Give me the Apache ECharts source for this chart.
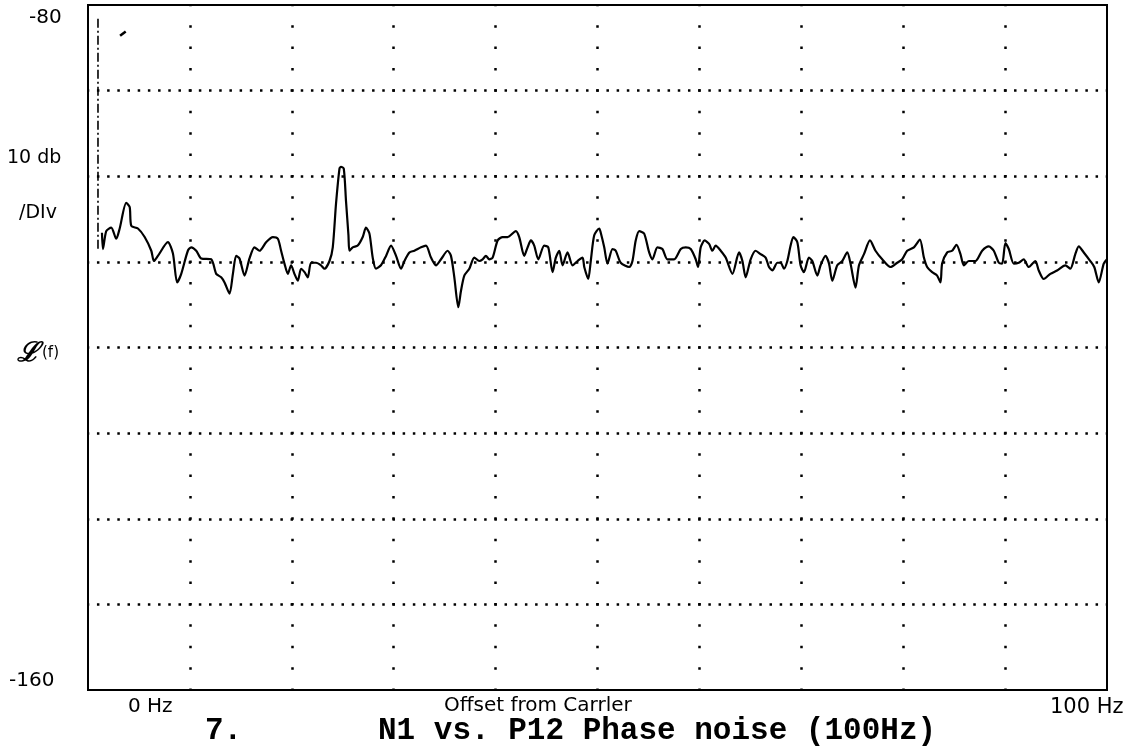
<!DOCTYPE html>
<html>
<head>
<meta charset="utf-8">
<title>N1 vs. P12 Phase noise (100Hz)</title>
<script src="https://cdn.jsdelivr.net/npm/echarts@6/dist/echarts.min.js"></script>
<style>
  html, body { margin: 0; padding: 0; background: #fff; }
  #chart { width: 1140px; height: 746px; }
</style>
</head>
<body>
<div id="chart"></div>
<script>
// Single-sideband phase noise L(f), 0..100 Hz offset, 10 dB per division
const freqHz = [
  1.37, 1.47, 1.79, 2.28, 2.77, 3.11, 3.75, 4.09, 4.25, 4.90,
  5.56, 6.21, 6.47, 6.86, 7.84, 8.33, 8.75, 9.15, 9.80, 10.13,
  10.62, 11.11, 12.09, 12.58, 13.07, 13.40, 13.89, 14.22, 14.54, 14.87,
  15.36, 15.85, 16.34, 16.83, 17.48, 18.14, 18.63, 18.95, 19.28, 19.61,
  19.93, 20.26, 20.59, 20.91, 21.25, 21.57, 21.89, 22.38, 22.87, 23.21,
  23.70, 24.02, 24.34, 24.68, 24.83, 25.10, 25.32, 25.56, 25.66, 25.98,
  26.47, 26.96, 27.28, 27.62, 27.94, 28.26, 28.75, 29.25, 29.74, 30.23,
  30.72, 31.05, 31.54, 32.03, 32.68, 33.17, 33.66, 34.15, 34.64, 35.29,
  35.62, 35.95, 36.34, 36.60, 36.93, 37.42, 37.91, 38.40, 38.73, 39.05,
  39.38, 39.71, 40.20, 40.69, 41.18, 41.99, 42.32, 42.81, 43.14, 43.46,
  43.79, 44.19, 44.77, 45.17, 45.59, 45.91, 46.25, 46.57, 47.06, 47.55,
  48.04, 48.53, 48.70, 49.09, 49.34, 49.68, 50.17, 50.32, 50.66, 50.98,
  51.47, 51.79, 52.28, 53.11, 53.43, 53.75, 54.09, 54.58, 55.07, 55.39,
  55.88, 56.37, 56.86, 57.52, 58.17, 58.66, 59.15, 59.64, 59.87, 60.13,
  60.52, 60.95, 61.27, 61.60, 62.09, 62.58, 63.24, 63.89, 64.22, 64.54,
  65.03, 65.52, 66.01, 66.50, 66.83, 67.16, 67.65, 67.97, 68.30, 68.63,
  68.95, 69.22, 69.61, 69.93, 70.26, 70.75, 71.08, 71.57, 71.89, 72.38,
  72.72, 73.04, 73.53, 74.02, 74.51, 74.83, 75.32, 75.66, 76.15, 76.74,
  77.28, 77.94, 78.75, 79.41, 79.90, 80.39, 81.05, 81.64, 82.03, 82.35,
  82.84, 83.33, 83.66, 83.82, 84.31, 84.80, 85.23, 85.62, 85.95, 86.44,
  87.09, 87.75, 88.40, 88.89, 89.38, 89.71, 90.03, 90.36, 90.85, 91.34,
  91.83, 92.32, 92.97, 93.30, 93.79, 94.44, 95.10, 95.91, 96.40, 96.89,
  97.23, 97.72, 98.36, 98.75, 99.19, 99.68, 100.0
];
const levelDb = [
  -106.6, -108.5, -106.4, -106.0, -107.3, -106.1, -103.1, -103.6, -105.8, -106.1,
  -107.1, -108.7, -109.9, -109.3, -107.7, -109.0, -112.4, -111.4, -108.7, -108.3,
  -108.7, -109.6, -109.7, -111.4, -111.8, -112.4, -113.7, -111.4, -109.3, -109.6,
  -111.6, -109.6, -108.3, -108.7, -107.7, -107.1, -107.3, -108.7, -110.2, -111.4,
  -110.4, -111.4, -112.2, -110.8, -111.2, -111.8, -110.1, -110.1, -110.4, -110.8,
  -109.9, -108.3, -103.2, -99.1, -98.9, -99.1, -102.9, -106.9, -108.7, -108.3,
  -108.1, -107.1, -106.0, -106.7, -109.5, -110.8, -110.4, -109.3, -108.1, -109.3,
  -110.8, -109.9, -108.9, -108.7, -108.3, -108.1, -109.5, -110.4, -109.7, -108.7,
  -109.3, -111.8, -115.3, -113.4, -111.6, -110.8, -109.5, -109.9, -109.7, -109.3,
  -109.7, -109.5, -107.5, -107.1, -107.1, -106.4, -107.1, -109.3, -108.3, -107.5,
  -108.1, -109.7, -108.1, -108.3, -111.2, -109.5, -108.7, -110.4, -108.9, -110.4,
  -109.9, -109.5, -110.6, -112.0, -109.9, -106.9, -106.1, -106.6, -108.3, -110.2,
  -108.5, -108.7, -110.1, -110.6, -109.9, -107.5, -106.4, -106.7, -108.9, -109.7,
  -108.3, -108.5, -109.7, -109.7, -108.5, -108.3, -108.5, -109.7, -110.6, -108.3,
  -107.5, -107.9, -108.7, -108.1, -108.7, -109.5, -111.4, -108.9, -109.9, -111.8,
  -109.7, -108.7, -109.1, -109.5, -110.6, -111.0, -110.1, -110.1, -110.8, -109.9,
  -108.1, -107.1, -107.7, -110.4, -111.2, -109.5, -109.9, -111.6, -110.4, -109.3,
  -110.2, -112.2, -110.4, -109.9, -108.9, -110.2, -113.0, -110.4, -109.1, -107.5,
  -108.7, -109.7, -110.6, -110.1, -109.7, -108.7, -108.3, -107.4, -109.5, -110.6,
  -111.2, -111.6, -112.4, -110.2, -108.9, -108.7, -108.0, -109.1, -110.4, -109.9,
  -109.9, -108.7, -108.2, -108.7, -110.1, -110.2, -107.8, -108.5, -110.2, -110.1,
  -109.7, -110.6, -109.9, -111.0, -112.0, -111.4, -111.0, -110.4, -110.8, -109.1,
  -108.2, -108.9, -109.9, -110.6, -112.4, -110.2, -109.7
];

// Carrier marker drawn as a dash-dot stroke just right of 0 Hz
const carrierHz = [0.98, 0.98];
const carrierDb = [-81.6, -108.5];
// Short pen stroke near the top left
const strokeHz = [3.15, 3.7];
const strokeDb = [-83.6, -83.1];

const xRange = [0, 100];
const yRange = [-160, -80];
const yTickLabels = ['-80', '-160'];
const xTickLabels = ['0 Hz', '100 Hz'];
const scaleLabels = ['10 db', '/DIv'];
const yName = ['ℒ', '(f)'];
const xName = 'Offset from Carrler';
const plotNumber = '7.';
const plotTitle = 'N1 vs. P12 Phase noise (100Hz)';

const zip = (xs, ys) => xs.map((x, i) => [x, ys[i]]);

const chart = echarts.init(document.getElementById('chart'), null, { renderer: 'canvas' });

const sansFont = '"DejaVu Sans", "Liberation Sans", sans-serif';
const monoFont = '"Liberation Mono", "DejaVu Sans Mono", monospace';

chart.setOption({
  animation: false,
  backgroundColor: '#ffffff',
  grid: {
    left: 88, top: 5, width: 1019, height: 685,
    show: true, borderColor: '#000', borderWidth: 2, backgroundColor: 'transparent'
  },
  xAxis: {
    type: 'value', min: xRange[0], max: xRange[1], interval: 10,
    axisLine: { show: false }, axisTick: { show: false }, axisLabel: { show: false },
    splitLine: {
      show: true, showMinLine: false, showMaxLine: false,
      lineStyle: { color: '#000', width: 2.5, type: [2.5, 18.9], dashOffset: 1.25 }
    }
  },
  yAxis: {
    type: 'value', min: yRange[0], max: yRange[1], interval: 10,
    axisLine: { show: false }, axisTick: { show: false }, axisLabel: { show: false },
    splitLine: {
      show: true, showMinLine: false, showMaxLine: false,
      lineStyle: { color: '#000', width: 2.5, type: [2.5, 7.69], dashOffset: 1.25 }
    }
  },
  series: [
    {
      type: 'line', data: zip(freqHz, levelDb), symbol: 'none', smooth: 0.25,
      lineStyle: { color: '#000', width: 2.2 }, z: 5
    },
    {
      type: 'line', data: zip(carrierHz, carrierDb), symbol: 'none',
      lineStyle: { color: '#000', width: 1.6, type: [9, 3, 2, 3] }, z: 4
    },
    {
      type: 'line', data: zip(strokeHz, strokeDb), symbol: 'none',
      lineStyle: { color: '#000', width: 2.5 }, z: 4
    }
  ],
  graphic: [
    { type: 'text', left: 29, top: 8, style: { text: yTickLabels[0], font: '20px ' + sansFont, fill: '#000' } },
    { type: 'text', left: 7, top: 149, style: { text: scaleLabels[0], font: '19px ' + sansFont, fill: '#000' } },
    { type: 'text', left: 19, top: 204, style: { text: scaleLabels[1], font: '19px ' + sansFont, fill: '#000' } },
    { type: 'text', left: 17, top: 340, style: { text: yName[0], font: 'italic bold 27px "DejaVu Serif", serif', fill: '#000' } },
    { type: 'text', left: 42, top: 346, style: { text: yName[1], font: '15px ' + sansFont, fill: '#000' } },
    { type: 'text', left: 9, top: 671, style: { text: yTickLabels[1], font: '20px ' + sansFont, fill: '#000' } },
    { type: 'text', left: 128, top: 697, style: { text: xTickLabels[0], font: '20px ' + sansFont, fill: '#000' } },
    { type: 'text', left: 444, top: 696, style: { text: xName, font: '20px ' + sansFont, fill: '#000' } },
    { type: 'text', left: 1050, top: 697, style: { text: xTickLabels[1], font: '21px ' + sansFont, fill: '#000' } },
    { type: 'text', left: 205, top: 716, style: { text: plotNumber, font: 'bold 31px ' + monoFont, fill: '#000' } },
    { type: 'text', left: 378, top: 716, style: { text: plotTitle, font: 'bold 31px ' + monoFont, fill: '#000' } }
  ]
});
</script>
</body>
</html>
